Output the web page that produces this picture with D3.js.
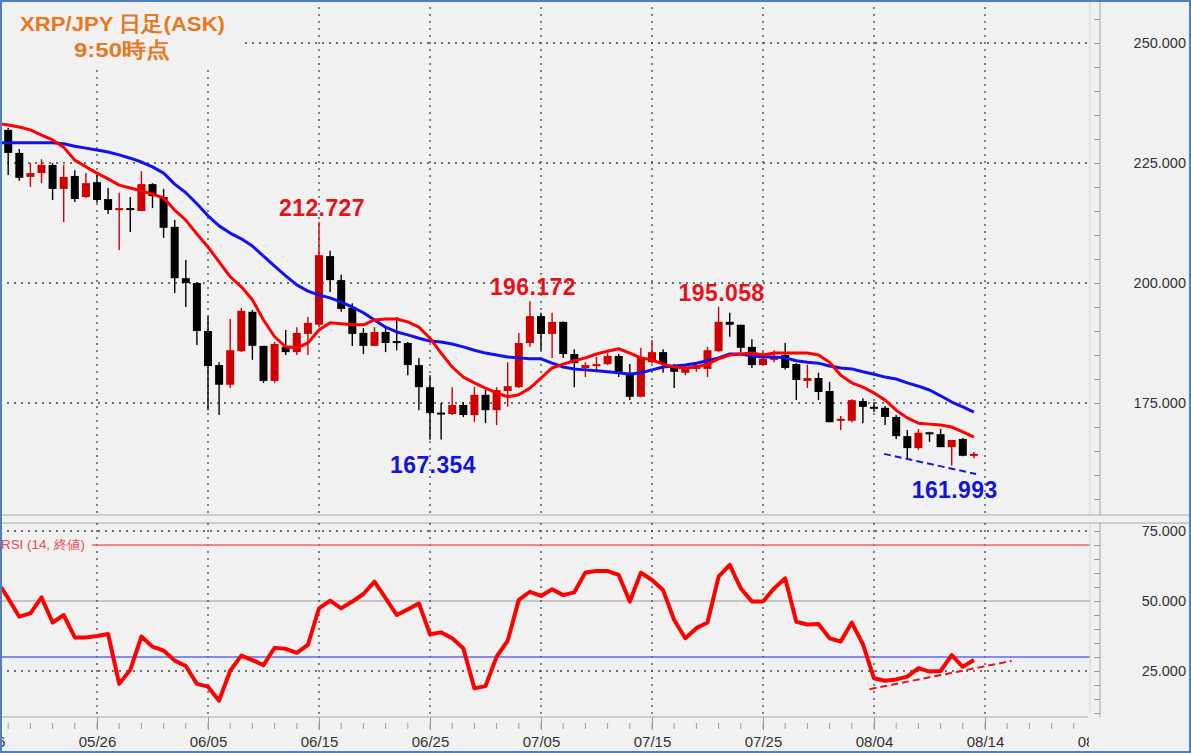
<!DOCTYPE html>
<html>
<head>
<meta charset="utf-8">
<script src="https://cdn.jsdelivr.net/npm/d3@7"></script>
<style>
body { margin: 0; background: #fff; overflow: hidden; }
svg { display: block; }
text { font-family: "Liberation Sans", Arial, sans-serif; }
</style>
</head>
<body>
<svg id="chart" width="1191" height="753"></svg>
<script>
// daily candles, first one is 05/17 (only its edge shows)
var startDay = "05/17";

var openPx = [229.8,231.9,227.1,222.1,222.9,224.6,219.6,222.3,217.9,221.0,
  217.5,215.3,215.6,215.0,220.6,217.9,211.7,201.0,200.0,190.0,
  182.9,178.8,185.8,194.0,186.9,179.6,186.7,185.6,189.4,191.3,
  205.6,200.6,194.8,189.6,186.9,189.8,187.9,187.5,182.9,178.3,
  173.0,172.7,174.6,172.5,176.7,173.5,177.5,178.3,187.5,193.1,
  189.4,191.9,185.2,182.3,183.0,183.1,184.8,181.3,176.3,183.5,
  185.6,182.9,181.3,182.1,182.1,185.8,191.9,191.3,186.7,182.9,
  184.0,185.0,183.1,179.6,180.2,177.5,171.5,171.3,175.4,174.2,
  174.0,172.1,168.1,165.6,168.9,168.5,165.8,167.5,164.2];
var highPx = [233.0,232.3,227.9,225.0,225.8,225.0,224.6,223.5,222.9,222.5,
  219.8,218.8,217.9,223.3,220.8,219.6,213.1,204.8,200.2,193.0,
  183.5,192.5,194.8,194.4,186.9,187.7,190.2,190.8,192.9,212.727,
  206.7,201.7,195.8,190.6,190.8,190.8,192.9,187.7,184.4,180.8,
  175.0,178.3,175.2,178.3,177.7,178.3,183.5,189.6,196.172,193.8,
  193.8,192.0,186.2,183.5,184.6,185.4,185.2,183.1,186.5,188.1,
  186.2,183.1,182.9,183.5,186.7,195.058,193.8,191.3,188.3,185.6,
  186.0,187.5,183.3,183.0,181.3,179.4,172.3,175.8,176.0,175.2,
  174.4,172.5,169.4,169.6,169.0,169.6,167.3,167.7,164.8];
var lowPx = [228.5,222.5,221.3,220.0,220.8,217.3,212.7,216.9,217.7,216.7,
  214.4,206.9,210.6,215.0,215.6,209.4,197.9,195.0,187.1,173.5,
  172.5,178.1,185.6,184.0,179.2,179.2,185.0,185.0,185.0,190.8,
  198.1,194.0,186.9,185.2,186.9,185.6,186.0,180.8,173.5,167.354,
  167.4,172.5,172.1,171.0,170.8,170.4,174.2,178.1,186.7,186.0,
  184.4,184.4,178.3,180.4,181.5,182.9,180.4,175.6,176.2,183.3,
  181.3,178.1,180.8,181.5,180.4,185.6,188.8,185.6,182.3,182.9,
  183.5,182.0,175.6,178.1,175.6,171.0,169.4,171.0,170.8,173.1,
  170.4,167.5,163.5,165.2,166.9,165.8,161.993,163.9,163.5];
var closePx = [232.3,227.1,221.9,222.9,224.6,219.6,222.1,217.5,220.8,217.3,
  215.2,215.6,215.2,220.6,218.1,211.5,201.0,200.0,190.0,182.7,
  178.8,186.0,194.2,186.9,179.6,187.3,185.6,189.6,191.7,205.8,
  200.6,194.6,189.4,186.9,189.8,187.5,187.7,182.9,178.3,172.9,
  172.9,174.6,172.5,176.7,173.5,177.7,178.5,187.5,193.1,189.4,
  191.9,185.2,183.3,182.9,183.1,184.8,181.5,176.3,184.6,185.6,
  183.1,181.5,182.5,182.9,186.0,191.9,191.3,186.5,182.9,184.2,
  184.4,182.3,179.8,180.2,177.3,171.0,171.7,175.6,174.2,174.0,
  172.1,168.1,165.6,168.8,168.7,165.8,167.3,164.0,164.4];

// moving averages (short = red, long = blue)
var maShort = [233.3,232.9,232.5,231.9,230.8,229.8,228.3,225.6,224.2,222.9,
  221.7,220.4,219.8,219.2,218.5,217.7,215.2,213.1,210.2,207.5,
  204.4,201.3,199.2,196.5,192.3,188.8,186.7,186.5,187.5,190.2,
  191.7,191.5,191.3,191.3,192.3,192.5,192.5,191.9,190.8,188.5,
  185.4,182.5,180.4,179.2,178.1,177.1,176.3,176.7,178.1,180.2,
  182.3,183.1,183.8,184.4,185.2,185.8,186.3,185.4,184.4,184.0,
  183.1,182.5,182.3,182.5,183.1,184.2,185.0,185.2,185.4,185.0,
  185.4,185.4,185.4,185.4,185.0,183.5,180.8,179.2,178.3,177.1,
  175.6,173.5,171.9,170.8,170.6,170.4,170.0,169.0,167.9];
var maLong = [229.2,229.2,229.2,229.2,229.2,229.2,229.0,228.5,228.1,227.7,
  227.3,226.7,226.0,225.2,224.2,222.9,220.6,218.8,216.5,214.0,
  211.9,210.4,209.2,207.7,205.6,203.5,201.5,199.6,198.3,197.5,
  196.9,196.0,195.0,193.8,192.3,190.8,189.8,189.2,188.5,187.9,
  187.7,187.3,186.7,186.0,185.4,185.0,184.6,184.4,184.2,184.2,
  183.3,182.5,182.1,181.9,181.7,181.5,181.3,181.0,181.3,181.9,
  182.5,182.7,182.9,183.3,183.8,184.4,185.2,185.2,184.8,184.6,
  184.6,184.4,183.8,183.5,183.3,182.7,182.3,182.1,181.5,181.0,
  180.4,180.0,179.2,178.5,177.7,176.5,175.2,174.2,173.1];

// RSI(14)
var rsiVals = [56.9,51.0,44.4,45.6,51.3,42.3,45.0,37.0,37.0,37.5,
  38.2,20.4,25.4,37.3,33.7,32.3,28.7,26.8,20.4,19.4,
  14.4,25.1,30.5,28.9,27.1,33.3,32.9,31.5,34.3,47.4,
  50.1,47.4,49.8,52.5,56.9,51.0,45.0,47.0,49.2,38.1,
  38.8,36.7,33.1,18.8,19.6,30.1,35.8,50.4,53.3,51.8,
  54.2,52.1,53.1,60.2,60.7,60.7,59.3,49.8,60.1,57.5,
  53.9,43.2,36.7,40.3,42.3,58.7,62.9,54.5,49.8,49.8,
  54.5,58.1,42.6,41.6,41.8,36.7,35.5,42.3,34.6,22.4,
  21.5,22.0,23.0,26.0,24.8,25.0,30.7,26.5,28.9];

var dateTicks = ["05/16","05/26","06/05","06/15","06/25","07/05","07/15","07/25","08/04","08/14","08/24"];
var priceTicks = [250, 225, 200, 175];
var rsiTicks = [75, 50, 25];
var rsiLevels = [70, 30];

// marked highs / lows
var markDays = ["06/15", "07/04", "07/21", "06/25", "08/11"];
var markVals = [212.727, 196.172, 195.058, 167.354, 161.993];
var markIsHigh = [true, true, true, false, false];

// hand drawn trend lines (day offsets from startDay)
var supportDay = [79.9, 88.2];
var supportVal = [164.4, 160.2];
var rsiTrendDay = [78.6, 91.4];
var rsiTrendVal = [18.5, 28.6];

var svg = d3.select("#chart");
var W = 1191, H = 753;
var bg = "#f1f1f1";
var plotRight = 1090, axisX = 1100;
var mainBottom = 515, rsiTop = 523, rsiBottom = 717;

var yr = "2025/";
var parse = d3.utcParse("%Y/%m/%d");
var day0 = parse(yr + startDay);
var days = openPx.map((d, i) => d3.utcDay.offset(day0, i));
var dayAt = off => new Date(day0.getTime() + off * 864e5);

var x = d3.scaleUtc().domain([parse(yr + "05/26"), parse(yr + "08/04")]).range([97, 874]);
var y = d3.scaleLinear().domain([175, 250]).range([403, 43]);
var yR = d3.scaleLinear().domain([25, 75]).range([671, 531]);

svg.append("rect").attr("width", W).attr("height", H).attr("fill", bg);

var defs = svg.append("defs");
defs.append("clipPath").attr("id", "clipMain").append("rect")
    .attr("x", 0).attr("y", 0).attr("width", plotRight).attr("height", mainBottom);
defs.append("clipPath").attr("id", "clipRsi").append("rect")
    .attr("x", 0).attr("y", rsiTop).attr("width", plotRight).attr("height", rsiBottom - rsiTop);
defs.append("clipPath").attr("id", "clipAxis").append("rect")
    .attr("x", 0).attr("y", rsiBottom).attr("width", plotRight - 1).attr("height", 40);

var tickDates = dateTicks.map(t => parse(yr + t));
var dotted = "2,5";

// ---------- main panel ----------
var main = svg.append("g").attr("clip-path", "url(#clipMain)");

main.selectAll(".hgrid").data(priceTicks).enter().append("line")
    .attr("x1", 0).attr("x2", plotRight)
    .attr("y1", d => y(d)).attr("y2", d => y(d))
    .attr("stroke", "#444").attr("stroke-width", 1.3).attr("stroke-dasharray", dotted);
main.selectAll(".vgrid").data(tickDates).enter().append("line")
    .attr("x1", d => x(d)).attr("x2", d => x(d))
    .attr("y1", 0).attr("y2", mainBottom)
    .attr("stroke", "#444").attr("stroke-width", 1.3).attr("stroke-dasharray", dotted);

var candles = days.map((d, i) => ({ date: d, o: openPx[i], h: highPx[i], l: lowPx[i], c: closePx[i] }));
var colorOf = d => d.c >= d.o ? "#d00000" : "#000000";

main.selectAll(".wick").data(candles).enter().append("line")
    .attr("x1", d => x(d.date)).attr("x2", d => x(d.date))
    .attr("y1", d => y(d.h)).attr("y2", d => y(d.l))
    .attr("stroke", colorOf).attr("stroke-width", 1.4);
main.selectAll(".body").data(candles).enter().append("rect")
    .attr("x", d => x(d.date) - 4).attr("width", 8)
    .attr("y", d => y(Math.max(d.o, d.c)))
    .attr("height", d => Math.max(2, Math.abs(y(d.o) - y(d.c))))
    .attr("fill", colorOf);

var maLine = d3.line().x((d, i) => x(days[i])).y(d => y(d));
main.append("path").datum(maLong).attr("d", maLine)
    .attr("fill", "none").attr("stroke", "#1010f0").attr("stroke-width", 3).attr("stroke-linejoin", "round");
main.append("path").datum(maShort).attr("d", maLine)
    .attr("fill", "none").attr("stroke", "#ff0000").attr("stroke-width", 3).attr("stroke-linejoin", "round");

main.append("line")
    .attr("x1", x(dayAt(supportDay[0]))).attr("y1", y(supportVal[0]))
    .attr("x2", x(dayAt(supportDay[1]))).attr("y2", y(supportVal[1]))
    .attr("stroke", "#1a1ad0").attr("stroke-width", 2).attr("stroke-dasharray", "7,4");

// labels on highs and lows
markDays.forEach(function(md, k) {
    var px = x(parse(yr + md)) + 3;
    var py = markIsHigh[k] ? y(markVals[k]) - 6 : y(markVals[k]) + 33;
    svg.append("text").attr("x", px).attr("y", py)
        .attr("text-anchor", "middle")
        .attr("font-size", 23).attr("font-weight", "bold").attr("letter-spacing", 0.4)
        .attr("fill", markIsHigh[k] ? "#e8101a" : "#1414d8")
        .text(d3.format(".3f")(markVals[k]));
});

// title box
svg.append("rect").attr("x", 0).attr("y", 0).attr("width", 243).attr("height", 68).attr("fill", bg);
svg.append("text").attr("x", 20).attr("y", 31)
    .attr("font-family", "'Noto Sans CJK JP', sans-serif").attr("font-weight", "bold")
    .attr("font-size", 21).attr("fill", "#e8781e")
    .attr("textLength", 205).attr("lengthAdjust", "spacingAndGlyphs")
    .text("XRP/JPY 日足(ASK)");
svg.append("text").attr("x", 74).attr("y", 57)
    .attr("font-family", "'Noto Sans CJK JP', sans-serif").attr("font-weight", "bold")
    .attr("font-size", 21).attr("fill", "#e8781e")
    .attr("textLength", 96).attr("lengthAdjust", "spacingAndGlyphs")
    .text("9:50時点");

// right price axis
svg.append("line").attr("x1", plotRight).attr("x2", plotRight).attr("y1", 0).attr("y2", mainBottom)
    .attr("stroke", "#d4d4d4");
svg.append("line").attr("x1", axisX).attr("x2", axisX).attr("y1", 0).attr("y2", mainBottom)
    .attr("stroke", "#a0a0a0");
var yTicks = svg.append("g").attr("transform", `translate(${axisX},0)`)
    .call(d3.axisLeft(y).tickValues(d3.range(155, 256, 5)).tickSize(6).tickFormat(""));
yTicks.select(".domain").remove();
yTicks.selectAll("line").attr("stroke", "#999");
var yLabels = svg.append("g").attr("transform", "translate(1186,0)")
    .call(d3.axisRight(y).tickValues(priceTicks).tickSize(0).tickPadding(0).tickFormat(d3.format(".3f")));
yLabels.select(".domain").remove();
yLabels.selectAll("text").attr("text-anchor", "end").attr("font-size", 14.5).attr("fill", "#333")
    .attr("font-family", "'Liberation Sans', Arial, sans-serif");

// panel separator
[mainBottom, rsiTop].forEach(function(sy) {
    svg.append("line").attr("x1", 0).attr("x2", W).attr("y1", sy).attr("y2", sy)
        .attr("stroke", "#a8a8a8").attr("stroke-width", 1.2);
});

// ---------- RSI panel ----------
var rsi = svg.append("g").attr("clip-path", "url(#clipRsi)");
rsi.selectAll(".rgrid").data(rsiTicks).enter().append("line")
    .attr("x1", 0).attr("x2", plotRight)
    .attr("y1", d => yR(d)).attr("y2", d => yR(d))
    .attr("stroke", d => d === 50 ? "#9a9a9a" : "#444")
    .attr("stroke-width", d => d === 50 ? 1.2 : 1.3)
    .attr("stroke-dasharray", d => d === 50 ? null : dotted);
rsi.selectAll(".rvgrid").data(tickDates).enter().append("line")
    .attr("x1", d => x(d)).attr("x2", d => x(d))
    .attr("y1", rsiTop).attr("y2", rsiBottom)
    .attr("stroke", "#444").attr("stroke-width", 1.3).attr("stroke-dasharray", dotted);
rsi.selectAll(".level").data(rsiLevels).enter().append("line")
    .attr("x1", 0).attr("x2", plotRight)
    .attr("y1", d => yR(d)).attr("y2", d => yR(d))
    .attr("stroke", d => d > 50 ? "#f06464" : "#6464f6").attr("stroke-width", 1.6);
rsi.append("path").datum(rsiVals)
    .attr("d", d3.line().x((d, i) => x(days[i])).y(d => yR(d)))
    .attr("fill", "none").attr("stroke", "#ff0000").attr("stroke-width", 4).attr("stroke-linejoin", "round");
rsi.append("line")
    .attr("x1", x(dayAt(rsiTrendDay[0]))).attr("y1", yR(rsiTrendVal[0]))
    .attr("x2", x(dayAt(rsiTrendDay[1]))).attr("y2", yR(rsiTrendVal[1]))
    .attr("stroke", "#e01818").attr("stroke-width", 2).attr("stroke-dasharray", "7,4");

svg.append("rect").attr("x", 0).attr("y", 536).attr("width", 92).attr("height", 16).attr("fill", bg);
svg.append("text").attr("x", 1).attr("y", 549)
    .attr("font-family", "'Noto Sans CJK JP', sans-serif").attr("font-size", 13).attr("fill", "#e64a52")
    .attr("textLength", 84).attr("lengthAdjust", "spacingAndGlyphs")
    .text("RSI (14, 終値)");

// RSI axis
svg.append("line").attr("x1", plotRight).attr("x2", plotRight).attr("y1", rsiTop).attr("y2", rsiBottom - 4)
    .attr("stroke", "#d4d4d4");
svg.append("line").attr("x1", axisX).attr("x2", axisX).attr("y1", rsiTop).attr("y2", rsiBottom)
    .attr("stroke", "#a0a0a0");
var rTicks = svg.append("g").attr("transform", `translate(${axisX},0)`)
    .call(d3.axisLeft(yR).tickValues(d3.range(10, 76, 5)).tickSize(6).tickFormat(""));
rTicks.select(".domain").remove();
rTicks.selectAll("line").attr("stroke", "#999");
var rLabels = svg.append("g").attr("transform", "translate(1186,0)")
    .call(d3.axisRight(yR).tickValues(rsiTicks).tickSize(0).tickPadding(0).tickFormat(d3.format(".3f")));
rLabels.select(".domain").remove();
rLabels.selectAll("text").attr("text-anchor", "end").attr("font-size", 14.5).attr("fill", "#333")
    .attr("font-family", "'Liberation Sans', Arial, sans-serif");

// ---------- date axis ----------
svg.append("line").attr("x1", 0).attr("x2", plotRight - 2).attr("y1", rsiBottom).attr("y2", rsiBottom)
    .attr("stroke", "#a8a8a8").attr("stroke-width", 1.2);
var minorDays = d3.utcDay.range(parse(yr + "05/16"), parse(yr + "08/26"))
    .filter((d, i) => i % 2 === 0 && x(d) <= plotRight - 2);
svg.append("g").selectAll("line").data(minorDays).enter().append("line")
    .attr("x1", d => x(d)).attr("x2", d => x(d))
    .attr("y1", rsiBottom + 6).attr("y2", rsiBottom + 12)
    .attr("stroke", "#999");
var xAxis = svg.append("g").attr("clip-path", "url(#clipAxis)")
    .append("g").attr("transform", `translate(0,${rsiBottom})`)
    .call(d3.axisBottom(x).tickValues(tickDates).tickSize(13).tickPadding(6)
        .tickFormat(d3.utcFormat("%m/%d")));
xAxis.select(".domain").remove();
xAxis.selectAll("line").attr("stroke", "#999");
xAxis.selectAll("text").attr("font-size", 15).attr("fill", "#333")
    .attr("font-family", "'Liberation Sans', Arial, sans-serif");

// frame
svg.append("rect").attr("x", 1).attr("y", 1).attr("width", W - 2).attr("height", H - 2)
    .attr("fill", "none").attr("stroke", "#4f7fc0").attr("stroke-width", 2);
</script>
</body>
</html>
